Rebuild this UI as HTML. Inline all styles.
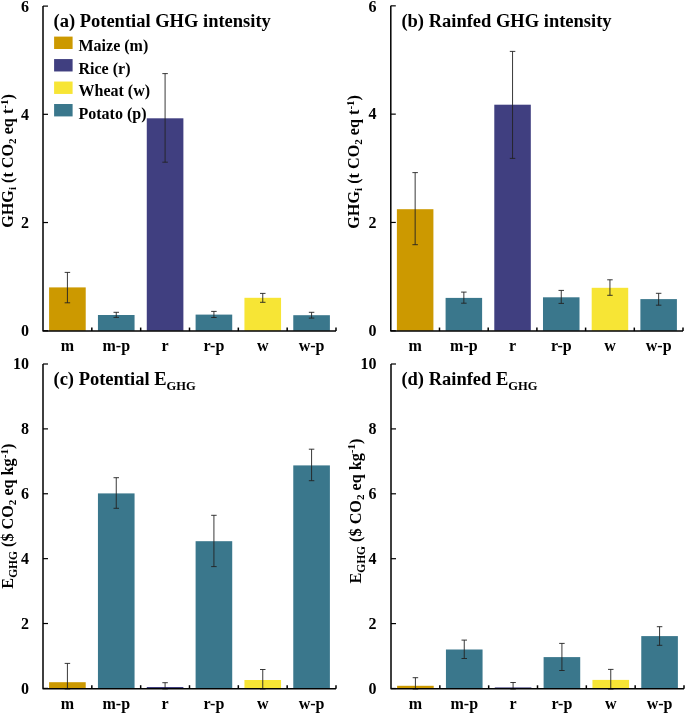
<!DOCTYPE html>
<html><head><meta charset="utf-8"><style>html,body{margin:0;padding:0;background:#fff;}svg{display:block;will-change:transform;}</style></head>
<body><svg width="685" height="714" viewBox="0 0 685 714">
<rect width="685" height="714" fill="#fff"/>
<rect x="49.10" y="287.40" width="36.62" height="43.35" fill="#CC9900"/>
<rect x="97.94" y="315.00" width="36.62" height="15.75" fill="#3A778C"/>
<rect x="146.77" y="118.30" width="36.62" height="212.45" fill="#403F80"/>
<rect x="195.60" y="314.60" width="36.62" height="16.15" fill="#3A778C"/>
<rect x="244.44" y="297.80" width="36.62" height="32.95" fill="#F7E535"/>
<rect x="293.27" y="315.20" width="36.62" height="15.55" fill="#3A778C"/>
<path d="M67.42 272.40V302.80M64.67 272.40H70.17M64.67 302.80H70.17" stroke="#222" stroke-width="0.9" fill="none"/>
<path d="M116.25 312.30V317.40M113.50 312.30H119.00M113.50 317.40H119.00" stroke="#222" stroke-width="0.9" fill="none"/>
<path d="M165.08 73.60V162.20M162.33 73.60H167.83M162.33 162.20H167.83" stroke="#222" stroke-width="0.9" fill="none"/>
<path d="M213.92 311.40V317.50M211.17 311.40H216.67M211.17 317.50H216.67" stroke="#222" stroke-width="0.9" fill="none"/>
<path d="M262.75 293.40V302.30M260.00 293.40H265.50M260.00 302.30H265.50" stroke="#222" stroke-width="0.9" fill="none"/>
<path d="M311.58 312.30V318.10M308.83 312.30H314.33M308.83 318.10H314.33" stroke="#222" stroke-width="0.9" fill="none"/>
<path d="M43 6.1V331.1H336" stroke="#000" stroke-width="1.5" fill="none" stroke-linejoin="round"/>
<path d="M43 330.75H48" stroke="#000" stroke-width="1.2" fill="none"/>
<text x="29.0" y="335.95" font-size="16" text-anchor="end" font-family="Liberation Serif" font-weight="bold">0</text>
<path d="M43 222.53H48" stroke="#000" stroke-width="1.2" fill="none"/>
<text x="29.0" y="227.73" font-size="16" text-anchor="end" font-family="Liberation Serif" font-weight="bold">2</text>
<path d="M43 114.32H48" stroke="#000" stroke-width="1.2" fill="none"/>
<text x="29.0" y="119.52" font-size="16" text-anchor="end" font-family="Liberation Serif" font-weight="bold">4</text>
<path d="M43 6.10H48" stroke="#000" stroke-width="1.2" fill="none"/>
<text x="29.0" y="12.30" font-size="16" text-anchor="end" font-family="Liberation Serif" font-weight="bold">6</text>
<path d="M91.83 331.1V327.55" stroke="#000" stroke-width="1.5" fill="none"/>
<path d="M140.67 331.1V327.55" stroke="#000" stroke-width="1.5" fill="none"/>
<path d="M189.50 331.1V327.55" stroke="#000" stroke-width="1.5" fill="none"/>
<path d="M238.33 331.1V327.55" stroke="#000" stroke-width="1.5" fill="none"/>
<path d="M287.17 331.1V327.55" stroke="#000" stroke-width="1.5" fill="none"/>
<path d="M336.00 331.1V327.55" stroke="#000" stroke-width="1.5" fill="none"/>
<text x="67.42" y="351.35" font-size="16" text-anchor="middle" font-family="Liberation Serif" font-weight="bold">m</text>
<text x="116.25" y="351.35" font-size="16" text-anchor="middle" font-family="Liberation Serif" font-weight="bold">m-p</text>
<text x="165.08" y="351.35" font-size="16" text-anchor="middle" font-family="Liberation Serif" font-weight="bold">r</text>
<text x="213.92" y="351.35" font-size="16" text-anchor="middle" font-family="Liberation Serif" font-weight="bold">r-p</text>
<text x="262.75" y="351.35" font-size="16" text-anchor="middle" font-family="Liberation Serif" font-weight="bold">w</text>
<text x="311.58" y="351.35" font-size="16" text-anchor="middle" font-family="Liberation Serif" font-weight="bold">w-p</text>
<text x="53.5" y="27" font-size="18.5" font-family="Liberation Serif" font-weight="bold">(a) Potential GHG intensity</text>
<text transform="translate(12.8 161.0) rotate(-90)" text-anchor="middle" font-size="16.2" font-family="Liberation Serif" font-weight="bold">GHG<tspan font-size="11" dy="3">i</tspan><tspan dy="-3"> (t CO</tspan><tspan font-size="11" dy="3">2</tspan><tspan dy="-3"> eq t</tspan><tspan font-size="11" dy="-5.2">-1</tspan><tspan dy="5.2">)</tspan></text>
<rect x="54.1" y="36.60" width="18.5" height="12.4" fill="#CC9900"/>
<text x="78.5" y="51.10" font-size="16" font-family="Liberation Serif" font-weight="bold">Maize (m)</text>
<rect x="54.1" y="59.07" width="18.5" height="12.4" fill="#403F80"/>
<text x="78.5" y="73.57" font-size="16" font-family="Liberation Serif" font-weight="bold">Rice (r)</text>
<rect x="54.1" y="81.54" width="18.5" height="12.4" fill="#F7E535"/>
<text x="78.5" y="96.04" font-size="16" font-family="Liberation Serif" font-weight="bold">Wheat (w)</text>
<rect x="54.1" y="104.01" width="18.5" height="12.4" fill="#3A778C"/>
<text x="78.5" y="118.51" font-size="16" font-family="Liberation Serif" font-weight="bold">Potato (p)</text>
<rect x="396.89" y="209.20" width="36.52" height="121.55" fill="#CC9900"/>
<rect x="445.59" y="297.90" width="36.52" height="32.85" fill="#3A778C"/>
<rect x="494.29" y="104.70" width="36.52" height="226.05" fill="#403F80"/>
<rect x="542.99" y="297.30" width="36.52" height="33.45" fill="#3A778C"/>
<rect x="591.69" y="287.80" width="36.52" height="42.95" fill="#F7E535"/>
<rect x="640.39" y="299.10" width="36.52" height="31.65" fill="#3A778C"/>
<path d="M415.15 172.60V244.70M412.40 172.60H417.90M412.40 244.70H417.90" stroke="#222" stroke-width="0.9" fill="none"/>
<path d="M463.85 292.10V303.20M461.10 292.10H466.60M461.10 303.20H466.60" stroke="#222" stroke-width="0.9" fill="none"/>
<path d="M512.55 51.40V158.40M509.80 51.40H515.30M509.80 158.40H515.30" stroke="#222" stroke-width="0.9" fill="none"/>
<path d="M561.25 290.40V303.40M558.50 290.40H564.00M558.50 303.40H564.00" stroke="#222" stroke-width="0.9" fill="none"/>
<path d="M609.95 279.80V295.30M607.20 279.80H612.70M607.20 295.30H612.70" stroke="#222" stroke-width="0.9" fill="none"/>
<path d="M658.65 293.30V305.20M655.90 293.30H661.40M655.90 305.20H661.40" stroke="#222" stroke-width="0.9" fill="none"/>
<path d="M390.8 5.84V331.1H683" stroke="#000" stroke-width="1.5" fill="none" stroke-linejoin="round"/>
<path d="M390.8 330.75H395.8" stroke="#000" stroke-width="1.2" fill="none"/>
<text x="376.4" y="335.95" font-size="16" text-anchor="end" font-family="Liberation Serif" font-weight="bold">0</text>
<path d="M390.8 222.45H395.8" stroke="#000" stroke-width="1.2" fill="none"/>
<text x="376.4" y="227.65" font-size="16" text-anchor="end" font-family="Liberation Serif" font-weight="bold">2</text>
<path d="M390.8 114.14H395.8" stroke="#000" stroke-width="1.2" fill="none"/>
<text x="376.4" y="119.34" font-size="16" text-anchor="end" font-family="Liberation Serif" font-weight="bold">4</text>
<path d="M390.8 5.84H395.8" stroke="#000" stroke-width="1.2" fill="none"/>
<text x="376.4" y="12.04" font-size="16" text-anchor="end" font-family="Liberation Serif" font-weight="bold">6</text>
<path d="M439.50 331.1V327.55" stroke="#000" stroke-width="1.5" fill="none"/>
<path d="M488.20 331.1V327.55" stroke="#000" stroke-width="1.5" fill="none"/>
<path d="M536.90 331.1V327.55" stroke="#000" stroke-width="1.5" fill="none"/>
<path d="M585.60 331.1V327.55" stroke="#000" stroke-width="1.5" fill="none"/>
<path d="M634.30 331.1V327.55" stroke="#000" stroke-width="1.5" fill="none"/>
<path d="M683.00 331.1V327.55" stroke="#000" stroke-width="1.5" fill="none"/>
<text x="415.15" y="351.35" font-size="16" text-anchor="middle" font-family="Liberation Serif" font-weight="bold">m</text>
<text x="463.85" y="351.35" font-size="16" text-anchor="middle" font-family="Liberation Serif" font-weight="bold">m-p</text>
<text x="512.55" y="351.35" font-size="16" text-anchor="middle" font-family="Liberation Serif" font-weight="bold">r</text>
<text x="561.25" y="351.35" font-size="16" text-anchor="middle" font-family="Liberation Serif" font-weight="bold">r-p</text>
<text x="609.95" y="351.35" font-size="16" text-anchor="middle" font-family="Liberation Serif" font-weight="bold">w</text>
<text x="658.65" y="351.35" font-size="16" text-anchor="middle" font-family="Liberation Serif" font-weight="bold">w-p</text>
<text x="401.4" y="27" font-size="18.5" font-family="Liberation Serif" font-weight="bold">(b) Rainfed GHG intensity</text>
<text transform="translate(359.2 161.9) rotate(-90)" text-anchor="middle" font-size="16.2" font-family="Liberation Serif" font-weight="bold">GHG<tspan font-size="11" dy="3">i</tspan><tspan dy="-3"> (t CO</tspan><tspan font-size="11" dy="3">2</tspan><tspan dy="-3"> eq t</tspan><tspan font-size="11" dy="-5.2">-1</tspan><tspan dy="5.2">)</tspan></text>
<rect x="49.10" y="682.20" width="36.62" height="6.20" fill="#CC9900"/>
<rect x="97.94" y="493.40" width="36.62" height="195.00" fill="#3A778C"/>
<rect x="146.77" y="687.00" width="36.62" height="1.40" fill="#403F80"/>
<rect x="195.60" y="541.20" width="36.62" height="147.20" fill="#3A778C"/>
<rect x="244.44" y="680.00" width="36.62" height="8.40" fill="#F7E535"/>
<rect x="293.27" y="465.40" width="36.62" height="223.00" fill="#3A778C"/>
<path d="M67.42 663.40V688.90M64.67 663.40H70.17M64.67 688.90H70.17" stroke="#222" stroke-width="0.9" fill="none"/>
<path d="M116.25 477.70V508.30M113.50 477.70H119.00M113.50 508.30H119.00" stroke="#222" stroke-width="0.9" fill="none"/>
<path d="M165.08 682.70V688.90M162.33 682.70H167.83M162.33 688.90H167.83" stroke="#222" stroke-width="0.9" fill="none"/>
<path d="M213.92 515.30V566.60M211.17 515.30H216.67M211.17 566.60H216.67" stroke="#222" stroke-width="0.9" fill="none"/>
<path d="M262.75 669.50V688.90M260.00 669.50H265.50M260.00 688.90H265.50" stroke="#222" stroke-width="0.9" fill="none"/>
<path d="M311.58 449.20V480.70M308.83 449.20H314.33M308.83 480.70H314.33" stroke="#222" stroke-width="0.9" fill="none"/>
<path d="M43 364V688.75H336" stroke="#000" stroke-width="1.5" fill="none" stroke-linejoin="round"/>
<path d="M43 688.40H48" stroke="#000" stroke-width="1.2" fill="none"/>
<text x="29.0" y="693.60" font-size="16" text-anchor="end" font-family="Liberation Serif" font-weight="bold">0</text>
<path d="M43 623.52H48" stroke="#000" stroke-width="1.2" fill="none"/>
<text x="29.0" y="628.72" font-size="16" text-anchor="end" font-family="Liberation Serif" font-weight="bold">2</text>
<path d="M43 558.64H48" stroke="#000" stroke-width="1.2" fill="none"/>
<text x="29.0" y="563.84" font-size="16" text-anchor="end" font-family="Liberation Serif" font-weight="bold">4</text>
<path d="M43 493.76H48" stroke="#000" stroke-width="1.2" fill="none"/>
<text x="29.0" y="498.96" font-size="16" text-anchor="end" font-family="Liberation Serif" font-weight="bold">6</text>
<path d="M43 428.88H48" stroke="#000" stroke-width="1.2" fill="none"/>
<text x="29.0" y="434.08" font-size="16" text-anchor="end" font-family="Liberation Serif" font-weight="bold">8</text>
<path d="M43 364.00H48" stroke="#000" stroke-width="1.2" fill="none"/>
<text x="29.0" y="369.20" font-size="16" text-anchor="end" font-family="Liberation Serif" font-weight="bold">10</text>
<path d="M91.83 688.75V685.1999999999999" stroke="#000" stroke-width="1.5" fill="none"/>
<path d="M140.67 688.75V685.1999999999999" stroke="#000" stroke-width="1.5" fill="none"/>
<path d="M189.50 688.75V685.1999999999999" stroke="#000" stroke-width="1.5" fill="none"/>
<path d="M238.33 688.75V685.1999999999999" stroke="#000" stroke-width="1.5" fill="none"/>
<path d="M287.17 688.75V685.1999999999999" stroke="#000" stroke-width="1.5" fill="none"/>
<path d="M336.00 688.75V685.1999999999999" stroke="#000" stroke-width="1.5" fill="none"/>
<text x="67.42" y="709.00" font-size="16" text-anchor="middle" font-family="Liberation Serif" font-weight="bold">m</text>
<text x="116.25" y="709.00" font-size="16" text-anchor="middle" font-family="Liberation Serif" font-weight="bold">m-p</text>
<text x="165.08" y="709.00" font-size="16" text-anchor="middle" font-family="Liberation Serif" font-weight="bold">r</text>
<text x="213.92" y="709.00" font-size="16" text-anchor="middle" font-family="Liberation Serif" font-weight="bold">r-p</text>
<text x="262.75" y="709.00" font-size="16" text-anchor="middle" font-family="Liberation Serif" font-weight="bold">w</text>
<text x="311.58" y="709.00" font-size="16" text-anchor="middle" font-family="Liberation Serif" font-weight="bold">w-p</text>
<text x="53.5" y="385" font-size="18.5" font-family="Liberation Serif" font-weight="bold">(c) Potential E<tspan font-size="12.5" dy="4.5">GHG</tspan></text>
<text transform="translate(12.7 516.2) rotate(-90)" text-anchor="middle" font-size="16.2" font-family="Liberation Serif" font-weight="bold">E<tspan font-size="11.5" dy="4">GHG</tspan><tspan dy="-4"> ($ CO</tspan><tspan font-size="11" dy="3">2</tspan><tspan dy="-3"> eq kg</tspan><tspan font-size="11" dy="-5.2">-1</tspan><tspan dy="5.2">)</tspan></text>
<rect x="397.10" y="685.80" width="36.62" height="2.70" fill="#CC9900"/>
<rect x="445.94" y="649.50" width="36.62" height="39.00" fill="#3A778C"/>
<rect x="494.77" y="687.40" width="36.62" height="1.10" fill="#403F80"/>
<rect x="543.60" y="657.10" width="36.62" height="31.40" fill="#3A778C"/>
<rect x="592.44" y="679.90" width="36.62" height="8.60" fill="#F7E535"/>
<rect x="641.27" y="636.10" width="36.62" height="52.40" fill="#3A778C"/>
<path d="M415.42 677.70V689.00M412.67 677.70H418.17M412.67 689.00H418.17" stroke="#222" stroke-width="0.9" fill="none"/>
<path d="M464.25 640.10V658.50M461.50 640.10H467.00M461.50 658.50H467.00" stroke="#222" stroke-width="0.9" fill="none"/>
<path d="M513.08 682.50V689.00M510.33 682.50H515.83M510.33 689.00H515.83" stroke="#222" stroke-width="0.9" fill="none"/>
<path d="M561.92 643.40V670.50M559.17 643.40H564.67M559.17 670.50H564.67" stroke="#222" stroke-width="0.9" fill="none"/>
<path d="M610.75 669.40V689.00M608.00 669.40H613.50M608.00 689.00H613.50" stroke="#222" stroke-width="0.9" fill="none"/>
<path d="M659.58 626.70V645.30M656.83 626.70H662.33M656.83 645.30H662.33" stroke="#222" stroke-width="0.9" fill="none"/>
<path d="M391 364V688.85H684" stroke="#000" stroke-width="1.5" fill="none" stroke-linejoin="round"/>
<path d="M391 688.50H396" stroke="#000" stroke-width="1.2" fill="none"/>
<text x="376.4" y="693.70" font-size="16" text-anchor="end" font-family="Liberation Serif" font-weight="bold">0</text>
<path d="M391 623.60H396" stroke="#000" stroke-width="1.2" fill="none"/>
<text x="376.4" y="628.80" font-size="16" text-anchor="end" font-family="Liberation Serif" font-weight="bold">2</text>
<path d="M391 558.70H396" stroke="#000" stroke-width="1.2" fill="none"/>
<text x="376.4" y="563.90" font-size="16" text-anchor="end" font-family="Liberation Serif" font-weight="bold">4</text>
<path d="M391 493.80H396" stroke="#000" stroke-width="1.2" fill="none"/>
<text x="376.4" y="499.00" font-size="16" text-anchor="end" font-family="Liberation Serif" font-weight="bold">6</text>
<path d="M391 428.90H396" stroke="#000" stroke-width="1.2" fill="none"/>
<text x="376.4" y="434.10" font-size="16" text-anchor="end" font-family="Liberation Serif" font-weight="bold">8</text>
<path d="M391 364.00H396" stroke="#000" stroke-width="1.2" fill="none"/>
<text x="376.4" y="369.20" font-size="16" text-anchor="end" font-family="Liberation Serif" font-weight="bold">10</text>
<path d="M439.83 688.85V685.3" stroke="#000" stroke-width="1.5" fill="none"/>
<path d="M488.67 688.85V685.3" stroke="#000" stroke-width="1.5" fill="none"/>
<path d="M537.50 688.85V685.3" stroke="#000" stroke-width="1.5" fill="none"/>
<path d="M586.33 688.85V685.3" stroke="#000" stroke-width="1.5" fill="none"/>
<path d="M635.17 688.85V685.3" stroke="#000" stroke-width="1.5" fill="none"/>
<path d="M684.00 688.85V685.3" stroke="#000" stroke-width="1.5" fill="none"/>
<text x="415.42" y="709.10" font-size="16" text-anchor="middle" font-family="Liberation Serif" font-weight="bold">m</text>
<text x="464.25" y="709.10" font-size="16" text-anchor="middle" font-family="Liberation Serif" font-weight="bold">m-p</text>
<text x="513.08" y="709.10" font-size="16" text-anchor="middle" font-family="Liberation Serif" font-weight="bold">r</text>
<text x="561.92" y="709.10" font-size="16" text-anchor="middle" font-family="Liberation Serif" font-weight="bold">r-p</text>
<text x="610.75" y="709.10" font-size="16" text-anchor="middle" font-family="Liberation Serif" font-weight="bold">w</text>
<text x="659.58" y="709.10" font-size="16" text-anchor="middle" font-family="Liberation Serif" font-weight="bold">w-p</text>
<text x="401.4" y="385" font-size="18.5" font-family="Liberation Serif" font-weight="bold">(d) Rainfed E<tspan font-size="12.5" dy="4.5">GHG</tspan></text>
<text transform="translate(360.6 511.1) rotate(-90)" text-anchor="middle" font-size="16.2" font-family="Liberation Serif" font-weight="bold">E<tspan font-size="11.5" dy="4">GHG</tspan><tspan dy="-4"> ($ CO</tspan><tspan font-size="11" dy="3">2</tspan><tspan dy="-3"> eq kg</tspan><tspan font-size="11" dy="-5.2">-1</tspan><tspan dy="5.2">)</tspan></text>
</svg></body></html>
